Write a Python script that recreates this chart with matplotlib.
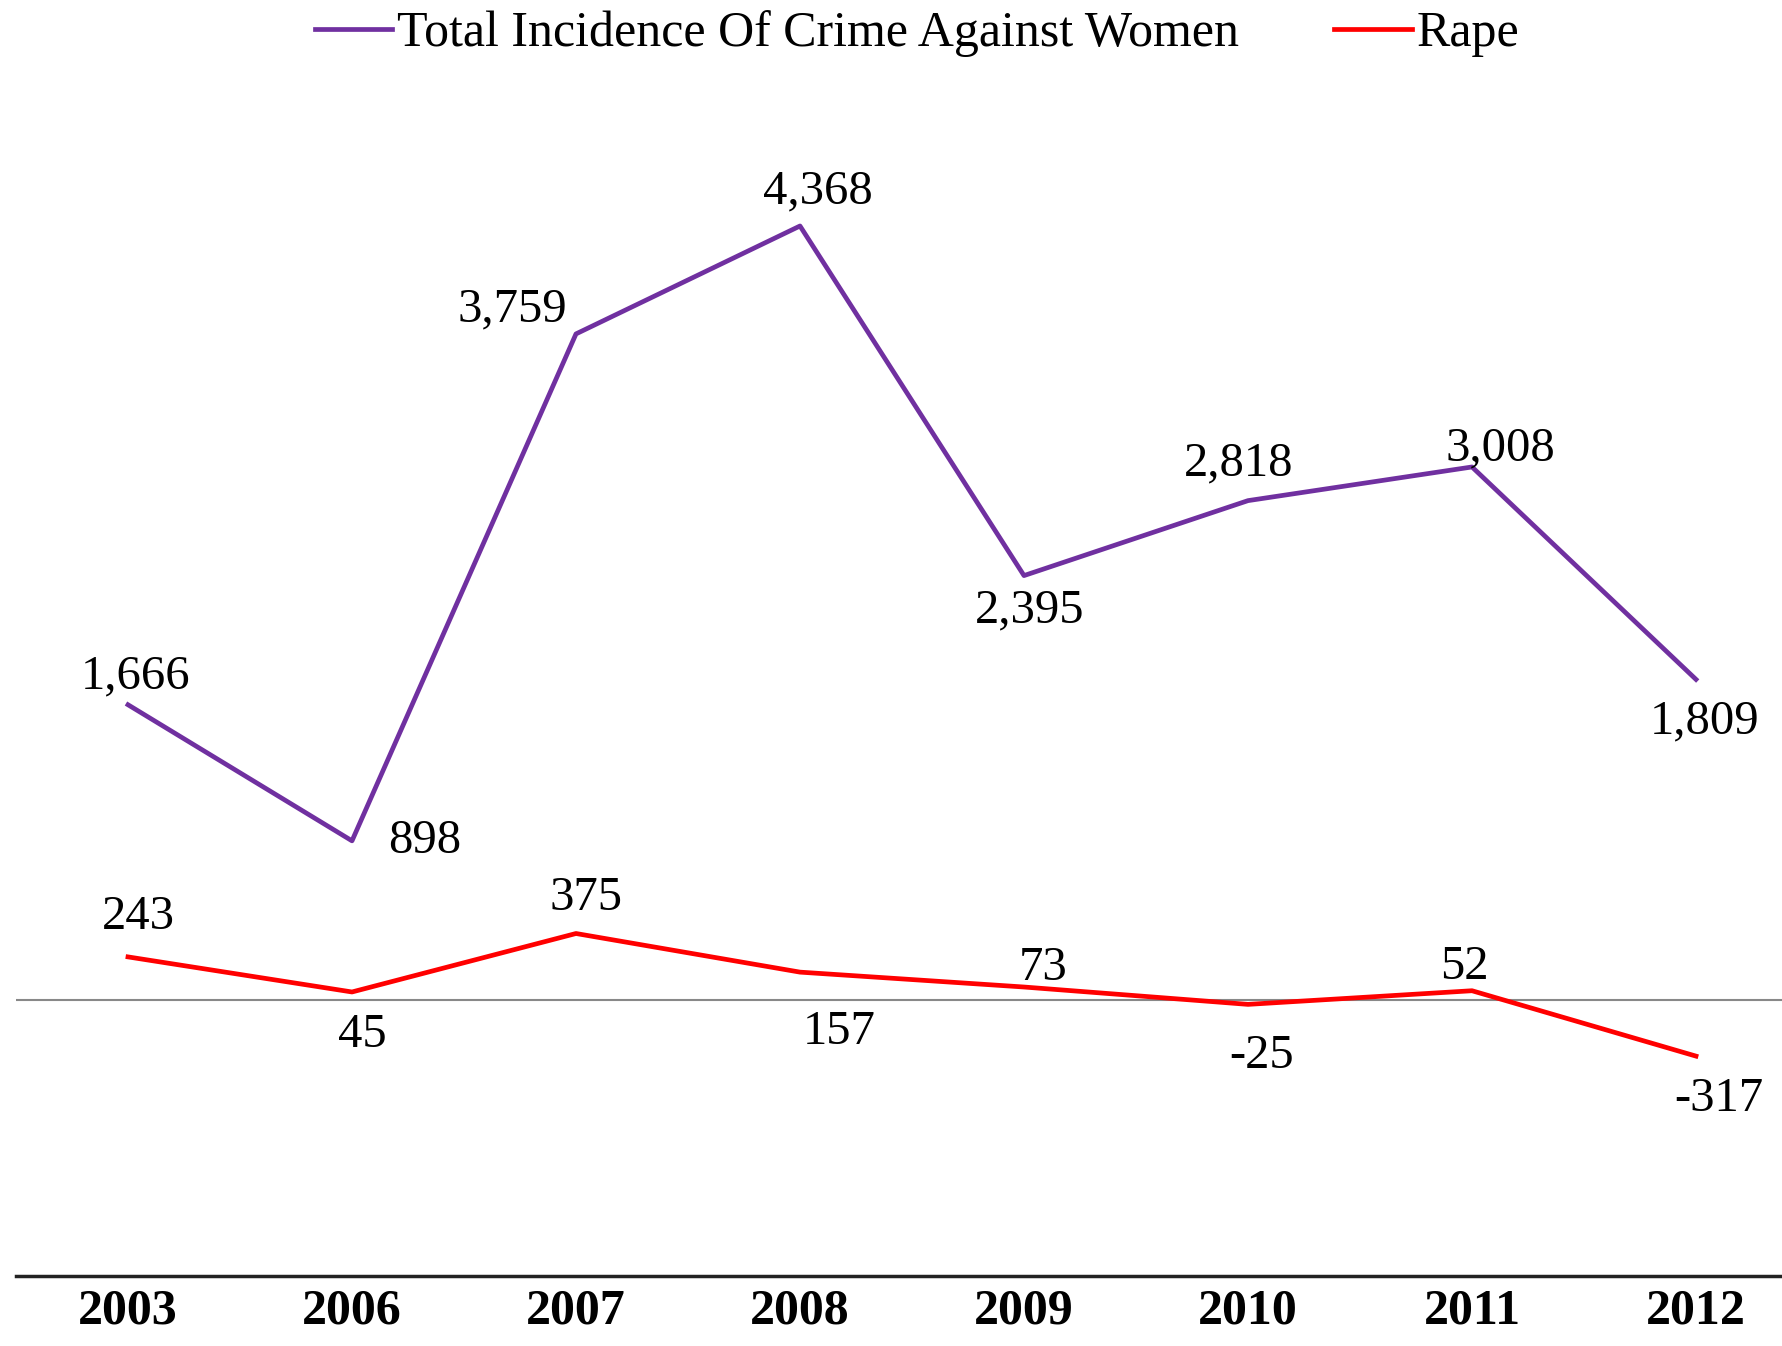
import matplotlib
matplotlib.use("Agg")
import matplotlib.pyplot as plt

years = ["2003", "2006", "2007", "2008", "2009", "2010", "2011", "2012"]
total_crime = [1666, 898, 3759, 4368, 2395, 2818, 3008, 1809]
rape = [243, 45, 375, 157, 73, -25, 52, -317]

# label offsets (pixels) for each point, tuned so labels don't sit on the lines
total_offsets = [(8, 28), (73, 0), (-64, 24), (18, 35), (6, -35), (-9, 37), (28, 18), (9, -42)]
rape_offsets = [(10, 40), (10, -43), (10, 36), (39, -60), (19, 19), (14, -52), (-8, 24), (23, -43)]

plt.rcParams["font.family"] = ["Liberation Serif", "DejaVu Serif"]

purple = "#7030A0"
red = "#FF0000"

fig = plt.figure(figsize=(17.82, 13.46), dpi=100)
ax = fig.add_axes([16 / 1782, 0.052, 1792 / 1782, 0.8633])

x = range(len(years))
ax.plot(x, total_crime, color=purple, lw=3.4, label="Total Incidence Of Crime Against Women")
ax.plot(x, rape, color=red, lw=3.4, label="Rape")
ax.axhline(0, color="#888888", lw=1.5, zorder=0)

for i, v in enumerate(total_crime):
    ax.annotate(f"{v:,}", (i, v), xytext=total_offsets[i], textcoords="offset pixels",
                ha="center", va="center", fontsize=35)
for i, v in enumerate(rape):
    ax.annotate(f"{v:,}", (i, v), xytext=rape_offsets[i], textcoords="offset pixels",
                ha="center", va="center", fontsize=35)

ax.set_xlim(-0.5, 7.5)
ax.set_ylim(-1558, 5000)
ax.set_xticks(list(x))
ax.set_xticklabels(years, fontsize=36, fontweight="bold")
ax.tick_params(axis="x", length=0, pad=9)
ax.set_yticks([])
for side in ["top", "right", "left"]:
    ax.spines[side].set_visible(False)
ax.spines["bottom"].set_linewidth(2.5)
ax.spines["bottom"].set_color("#222222")

fig.legend(loc="center", bbox_to_anchor=(917 / 1782, 0.975), ncol=2, frameon=False,
           fontsize=36, handlelength=1.55, handletextpad=0.1, columnspacing=1.9)

fig.savefig("out.png", dpi=100)
